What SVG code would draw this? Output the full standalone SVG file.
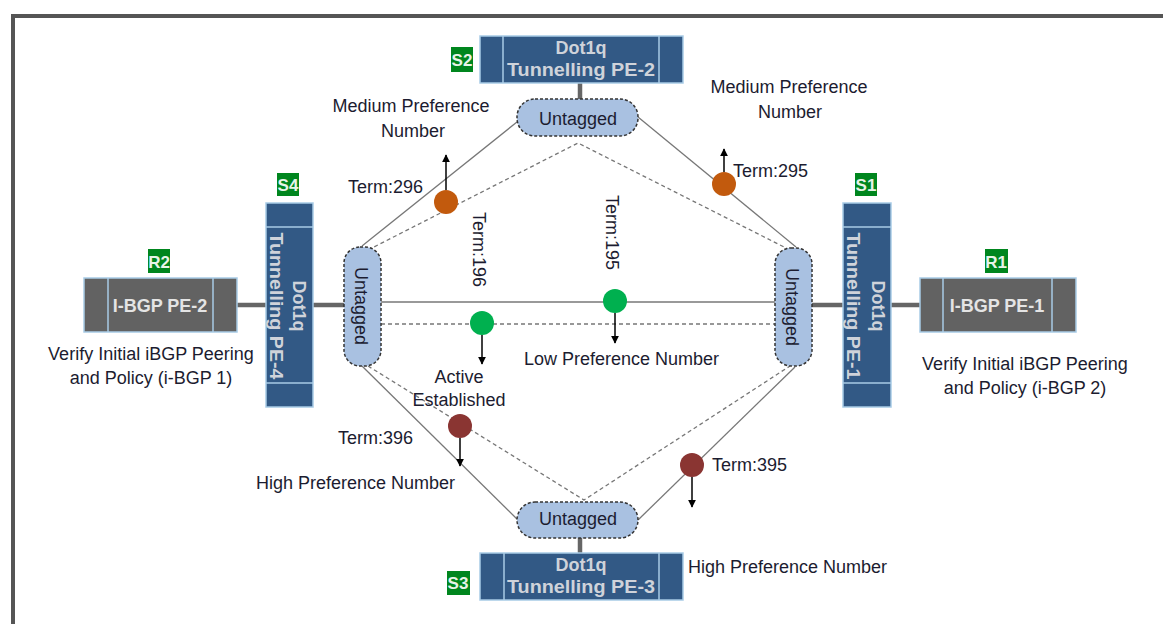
<svg xmlns="http://www.w3.org/2000/svg" width="1163" height="624" viewBox="0 0 1163 624">
  <style>
    .lbl { font-family: "Liberation Sans", Arial, sans-serif; font-size: 18px; fill: #1c1c30; }
    .mid { text-anchor: middle; }
    .box { fill: #325985; stroke: #a8cbe6; stroke-width: 1.5; }
    .boxtxt { font-family: "Liberation Sans", Arial, sans-serif; font-size: 18px; font-weight: bold; fill: #cfd3da; text-anchor: middle; }
    .rtr { fill: #626262; stroke: #a8cbe6; stroke-width: 1.5; }
    .rtrtxt { font-family: "Liberation Sans", Arial, sans-serif; font-size: 18px; font-weight: bold; fill: #e4e4e4; text-anchor: middle; }
    .div { stroke: #a8cbe6; stroke-width: 1.5; }
    .tag { fill: #00861e; }
    .tagtxt { font-family: "Liberation Sans", Arial, sans-serif; font-size: 17px; font-weight: bold; fill: #e8f4e8; text-anchor: middle; }
    .pill { fill: #a9c1e1; stroke: #333; stroke-width: 1.5; stroke-dasharray: 3 2; }
    .link { stroke: #666; stroke-width: 4.5; }
    .solid { stroke: #777; stroke-width: 1.3; fill: none; }
    .dash { stroke: #777; stroke-width: 1.3; fill: none; stroke-dasharray: 4 3; }
    .arr { stroke: #000; stroke-width: 1.5; marker-end: url(#head); }
  </style>
  <defs>
    <marker id="head" viewBox="0 0 10 10" refX="9" refY="5" markerWidth="8" markerHeight="8" markerUnits="userSpaceOnUse" orient="auto">
      <path d="M0,0 L10,5 L0,10 z" fill="#000"/>
    </marker>
    <filter id="soft" x="-30%" y="-30%" width="160%" height="160%">
      <feGaussianBlur stdDeviation="0.6"/>
    </filter>
  </defs>

  <rect width="1163" height="624" fill="#fff"/>

  <!-- frame -->
  <path d="M13,624 V16 H1163" fill="none" stroke="#555" stroke-width="4"/>

  <g id="connectors">
    <!-- trunk links between boxes and untagged ports -->
    <line class="link" x1="580" y1="83" x2="580" y2="100"/>
    <line class="link" x1="580" y1="538" x2="580" y2="553"/>
    <line class="link" x1="237" y1="305" x2="266" y2="305"/>
    <line class="link" x1="313" y1="305" x2="344" y2="305"/>
    <line class="link" x1="812" y1="305" x2="843" y2="305"/>
    <line class="link" x1="891" y1="305" x2="920" y2="305"/>
    <!-- solid ring -->
    <line class="solid" x1="517" y1="122" x2="362" y2="246"/>
    <line class="solid" x1="638" y1="117" x2="796" y2="247"/>
    <line class="solid" x1="362" y1="366" x2="518" y2="520"/>
    <line class="solid" x1="638" y1="520" x2="795" y2="367"/>
    <line class="solid" x1="381" y1="302" x2="775" y2="302"/>
    <!-- dashed ring -->
    <polyline class="dash" points="368,250 578,143 790,250"/>
    <polyline class="dash" points="368,366 584,500 790,366"/>
    <line class="dash" x1="381" y1="324" x2="775" y2="324"/>
    <!-- preference arrows -->
    <line class="arr" x1="446" y1="190" x2="446" y2="155"/>
    <line class="arr" x1="724" y1="172" x2="724" y2="149"/>
    <line class="arr" x1="482" y1="335" x2="482" y2="364"/>
    <line class="arr" x1="615" y1="313" x2="615" y2="343"/>
    <line class="arr" x1="460" y1="438" x2="460" y2="466"/>
    <line class="arr" x1="692" y1="477" x2="692" y2="507"/>
  </g>

  <!-- S2 -->
  <g id="s2">
    <rect class="box" x="480" y="36" width="203" height="47"/>
    <line class="div" x1="503" y1="36" x2="503" y2="83"/>
    <line class="div" x1="659" y1="36" x2="659" y2="83"/>
    <text class="boxtxt" x="581" y="54">Dot1q</text>
    <text class="boxtxt" x="581" y="76" textLength="148" lengthAdjust="spacingAndGlyphs">Tunnelling PE-2</text>
    <rect class="tag" x="451" y="47" width="22" height="25"/>
    <text class="tagtxt" x="462" y="66">S2</text>
  </g>

  <!-- S3 -->
  <g id="s3">
    <rect class="box" x="480" y="553" width="203" height="47"/>
    <line class="div" x1="504" y1="553" x2="504" y2="600"/>
    <line class="div" x1="659" y1="553" x2="659" y2="600"/>
    <text class="boxtxt" x="581" y="571">Dot1q</text>
    <text class="boxtxt" x="581" y="593" textLength="148" lengthAdjust="spacingAndGlyphs">Tunnelling PE-3</text>
    <rect class="tag" x="447" y="571" width="23" height="24"/>
    <text class="tagtxt" x="458" y="589">S3</text>
  </g>

  <!-- S4 -->
  <g id="s4">
    <rect class="box" x="266" y="203" width="47" height="204"/>
    <line class="div" x1="266" y1="227" x2="313" y2="227"/>
    <line class="div" x1="266" y1="383" x2="313" y2="383"/>
    <g transform="translate(289,306) rotate(90)">
      <text class="boxtxt" x="0" y="-4">Dot1q</text>
      <text class="boxtxt" x="0" y="19" textLength="147" lengthAdjust="spacingAndGlyphs">Tunnelling PE-4</text>
    </g>
    <rect class="tag" x="277" y="173" width="22" height="23"/>
    <text class="tagtxt" x="288" y="191">S4</text>
  </g>

  <!-- S1 -->
  <g id="s1">
    <rect class="box" x="843" y="203" width="48" height="204"/>
    <line class="div" x1="843" y1="227" x2="891" y2="227"/>
    <line class="div" x1="843" y1="383" x2="891" y2="383"/>
    <g transform="translate(868,306) rotate(90)">
      <text class="boxtxt" x="0" y="-4">Dot1q</text>
      <text class="boxtxt" x="0" y="21" textLength="147" lengthAdjust="spacingAndGlyphs">Tunnelling PE-1</text>
    </g>
    <rect class="tag" x="855" y="173" width="22" height="23"/>
    <text class="tagtxt" x="866" y="191">S1</text>
  </g>

  <!-- R2 -->
  <g id="r2">
    <rect class="rtr" x="84" y="278" width="153" height="54"/>
    <line class="div" x1="108" y1="278" x2="108" y2="332"/>
    <line class="div" x1="213" y1="278" x2="213" y2="332"/>
    <text class="rtrtxt" x="160" y="312">I-BGP PE-2</text>
    <rect class="tag" x="148" y="249" width="22" height="24"/>
    <text class="tagtxt" x="159" y="268">R2</text>
    <text class="lbl mid" x="151" y="360">Verify Initial iBGP Peering</text>
    <text class="lbl mid" x="151" y="384">and Policy (i-BGP 1)</text>
  </g>

  <!-- R1 -->
  <g id="r1">
    <rect class="rtr" x="920" y="278" width="156" height="54"/>
    <line class="div" x1="943" y1="278" x2="943" y2="332"/>
    <line class="div" x1="1052" y1="278" x2="1052" y2="332"/>
    <text class="rtrtxt" x="997" y="312">I-BGP PE-1</text>
    <rect class="tag" x="985" y="249" width="23" height="24"/>
    <text class="tagtxt" x="996" y="268">R1</text>
    <text class="lbl mid" x="1025" y="370">Verify Initial iBGP Peering</text>
    <text class="lbl mid" x="1025" y="394">and Policy (i-BGP 2)</text>
  </g>

  <!-- untagged ports -->
  <g id="untagged-top">
    <rect class="pill" x="517" y="99" width="121" height="37" rx="18"/>
    <text class="lbl mid" x="578" y="125">Untagged</text>
  </g>
  <g id="untagged-bottom">
    <rect class="pill" x="517" y="502" width="121" height="36" rx="18"/>
    <text class="lbl mid" x="578" y="525">Untagged</text>
  </g>
  <g id="untagged-left">
    <rect class="pill" x="344" y="247" width="37" height="119" rx="16"/>
    <text class="lbl mid" transform="translate(355,306) rotate(90)">Untagged</text>
  </g>
  <g id="untagged-right">
    <rect class="pill" x="775" y="248" width="37" height="118" rx="16"/>
    <text class="lbl mid" transform="translate(786,307) rotate(90)">Untagged</text>
  </g>

  <!-- policy terms -->
  <g id="term296">
    <circle cx="446" cy="202" r="12" fill="#c25a0e" filter="url(#soft)"/>
    <text class="lbl" x="348" y="193">Term:296</text>
    <text class="lbl mid" x="411" y="112">Medium Preference</text>
    <text class="lbl mid" x="413" y="137">Number</text>
  </g>
  <g id="term295">
    <circle cx="724" cy="184" r="12" fill="#c25a0e" filter="url(#soft)"/>
    <text class="lbl" x="733" y="177">Term:295</text>
    <text class="lbl mid" x="789" y="93">Medium Preference</text>
    <text class="lbl mid" x="790" y="118">Number</text>
  </g>
  <g id="term196">
    <circle cx="482" cy="323" r="12" fill="#00b050" filter="url(#soft)"/>
    <text class="lbl" transform="translate(473,212) rotate(90)">Term:196</text>
    <text class="lbl mid" x="459" y="383">Active</text>
    <text class="lbl mid" x="459" y="406">Established</text>
  </g>
  <g id="term195">
    <circle cx="615" cy="301" r="12" fill="#00b050" filter="url(#soft)"/>
    <text class="lbl" transform="translate(606,195) rotate(90)">Term:195</text>
    <text class="lbl" x="524" y="365">Low Preference Number</text>
  </g>
  <g id="term396">
    <circle cx="460" cy="426" r="12" fill="#8a3432" filter="url(#soft)"/>
    <text class="lbl" x="338" y="444">Term:396</text>
    <text class="lbl" x="256" y="489">High Preference Number</text>
  </g>
  <g id="term395">
    <circle cx="692" cy="465" r="12" fill="#8a3432" filter="url(#soft)"/>
    <text class="lbl" x="712" y="471">Term:395</text>
    <text class="lbl" x="688" y="573">High Preference Number</text>
  </g>
</svg>
